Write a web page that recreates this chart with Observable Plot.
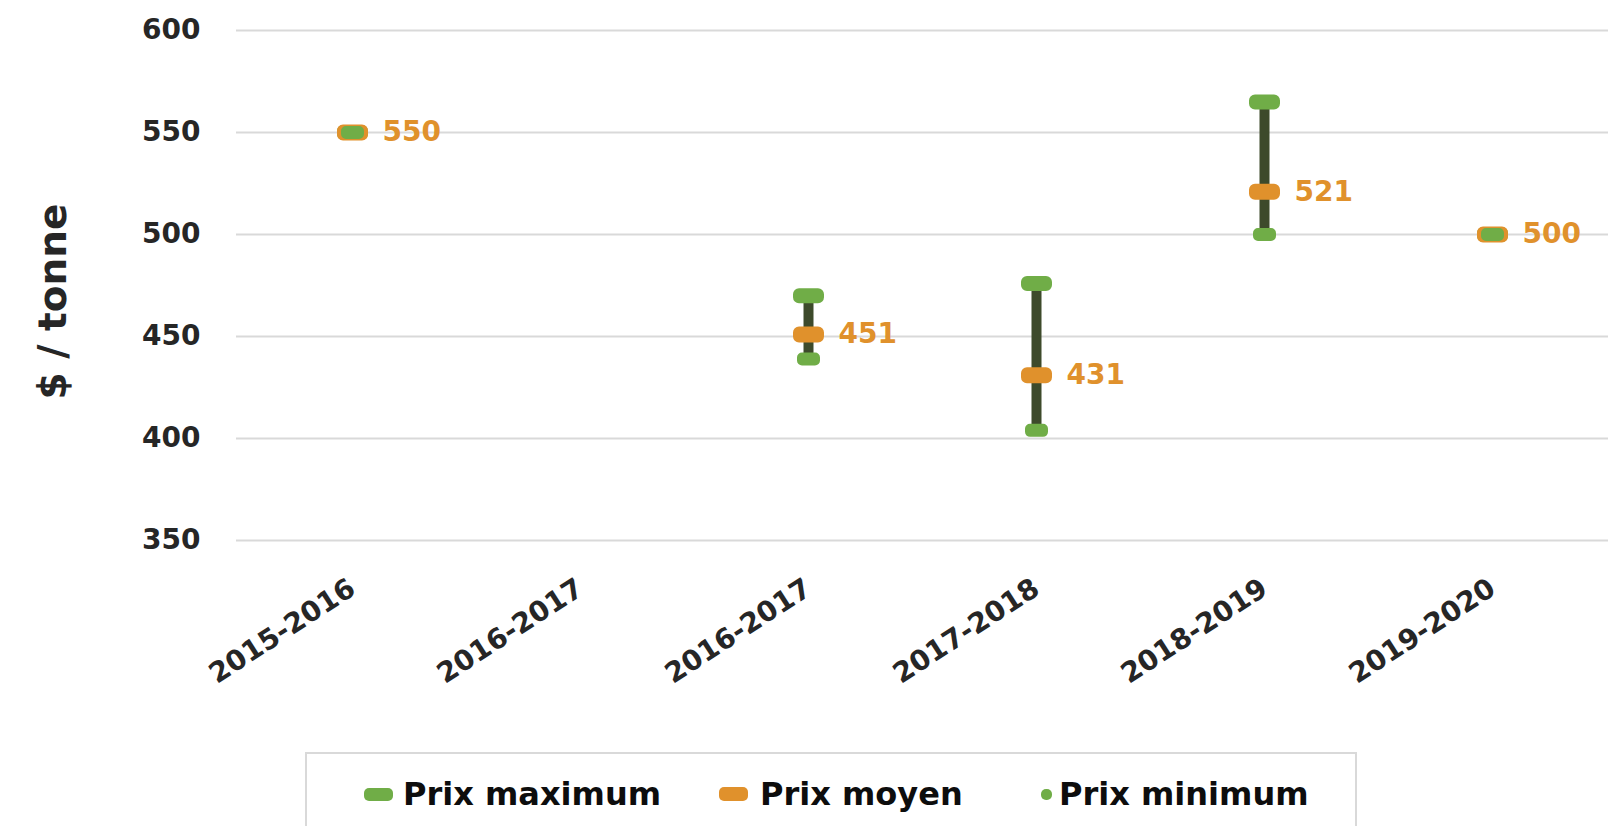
<!DOCTYPE html>
<html><head><meta charset="utf-8">
<script src="https://cdn.jsdelivr.net/npm/d3@7"></script>
<script src="https://cdn.jsdelivr.net/npm/@observablehq/plot@0.6"></script>
<style>
html,body{margin:0;padding:0;background:#fff;}
body{width:1621px;height:826px;overflow:hidden;position:relative;font-family:"DejaVu Sans",sans-serif;font-weight:bold;color:#0d0d0d;}
#chart{position:absolute;left:0;top:0;}
#legend{position:absolute;left:305px;top:752px;width:1052px;height:100px;border:2px solid #d9d9d9;box-sizing:border-box;background:#fff;}
.sw{position:absolute;border-radius:5px;}
.lt{position:absolute;font-size:32px;line-height:32px;top:24px;white-space:nowrap;}
</style>
</head><body>
<div id="chart"></div>
<div id="legend"></div>
<script>
const categories = ["2015-2016","2016-2017","2016-2017","2017-2018","2018-2019","2019-2020"];
const prixMaximum = [550, null, 470, 476, 565, 500];
const prixMoyen   = [550, null, 451, 431, 521, 500];
const prixMinimum = [550, null, 439, 404, 500, 500];
const yTicks = [350, 400, 450, 500, 550, 600];
const yLabel = "$ / tonne";
const seriesNames = ["Prix maximum", "Prix moyen", "Prix minimum"];

const green = "#70ad47", orange = "#e0912c", dark = "#3d4a2b";

const rows = categories.map((c, i) => ({i, cat: c, max: prixMaximum[i], mean: prixMoyen[i], min: prixMinimum[i]}));
const present = rows.filter(d => d.mean != null);

function roundRect(w, h, rad) {
  return {draw(ctx) {
    const x0 = -w/2, y0 = -h/2, x1 = w/2, y1 = h/2;
    ctx.moveTo(x0 + rad, y0);
    ctx.arcTo(x1, y0, x1, y1, rad);
    ctx.arcTo(x1, y1, x0, y1, rad);
    ctx.arcTo(x0, y1, x0, y0, rad);
    ctx.arcTo(x0, y0, x1, y0, rad);
    ctx.closePath();
  }};
}

const chart = Plot.plot({
  width: 1621, height: 745,
  marginLeft: 236, marginRight: 13, marginTop: 30, marginBottom: 205,
  style: {fontFamily: "DejaVu Sans", fontWeight: "bold", fontSize: "28px", color: "#262626", background: "white", overflow: "visible"},
  x: {type: "band", domain: d3.range(categories.length), padding: 0},
  y: {domain: [350, 600]},
  marks: [
    Plot.gridY(yTicks, {stroke: "#d9d9d9", strokeOpacity: 1, strokeWidth: 2}),
    Plot.axisX({tickFormat: i => categories[i], tickRotate: -33, tickSize: 0, tickPadding: 45, label: null, fontSize: 28}),
    Plot.axisY({ticks: yTicks, tickSize: 0, tickPadding: 36, label: null, fontSize: 28}),
    Plot.text([yLabel], {frameAnchor: "left", text: d => d, rotate: -90, textAnchor: "middle", lineAnchor: "middle", dx: -183, dy: 16, fontSize: 39, fontWeight: "bold", fill: "#262626"}),
    Plot.ruleX(present, {x: "i", y1: "min", y2: "max", stroke: dark, strokeWidth: 10}),
    Plot.dot(present, {x: "i", y: "max", r: 5, symbol: roundRect(31, 15, 6), fill: green, stroke: null}),
    Plot.dot(present, {x: "i", y: "mean", r: 5, symbol: roundRect(31, 16, 6), fill: orange, stroke: null}),
    Plot.dot(present, {x: "i", y: "min", r: 5, symbol: roundRect(23, 13, 5), fill: green, stroke: null}),
    Plot.text(present, {x: "i", y: "mean", text: d => String(d.mean), dx: 30, textAnchor: "start", fill: orange, fontSize: 28, fontWeight: "bold"})
  ]
});
document.getElementById("chart").appendChild(chart);

const legend = document.getElementById("legend");
const items = [
  {name: seriesNames[0], color: green, sx: 57, sw: 29, sh: 13, tx: 96},
  {name: seriesNames[1], color: orange, sx: 412, sw: 29, sh: 14, tx: 453},
  {name: seriesNames[2], color: green, sx: 734, sw: 11, sh: 11, tx: 752}
];
for (const it of items) {
  const s = document.createElement("div");
  s.className = "sw";
  s.style.left = it.sx + "px";
  s.style.top = (40 - it.sh/2) + "px";
  s.style.width = it.sw + "px";
  s.style.height = it.sh + "px";
  s.style.background = it.color;
  legend.appendChild(s);
  const t = document.createElement("div");
  t.className = "lt";
  t.style.left = it.tx + "px";
  t.textContent = it.name;
  legend.appendChild(t);
}
</script>
</body></html>
